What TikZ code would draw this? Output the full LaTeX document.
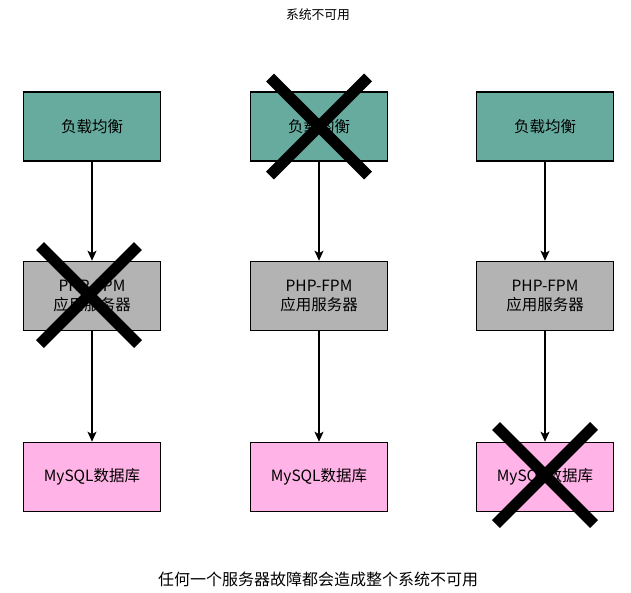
\documentclass[tikz,border=0pt]{standalone}
\usepackage{fontspec}
\setmainfont{Noto Sans CJK SC}
\usetikzlibrary{arrows.meta,calc}
\definecolor{lbteal}{HTML}{67AB9F}
\definecolor{appgray}{HTML}{B3B3B3}
\definecolor{dbpink}{HTML}{FFB3E6}
\tikzset{
  boxbase/.style={draw=black, line width=1.6pt, minimum width=137pt, minimum height=69pt, inner sep=0pt, align=center, font=\fontsize{15.5}{19}\selectfont},
  lbbox/.style={boxbase, fill=lbteal},
  appbox/.style={boxbase, fill=appgray},
  dbbox/.style={boxbase, fill=dbpink},
  flow/.style={draw=black, line width=1.6pt, -{Stealth[length=10pt,width=9pt,inset=2.5pt]}},
  crossline/.style={draw=black, line width=11pt}
}
\begin{document}
\begin{tikzpicture}[x=1pt,y=-1pt]
\useasboundingbox (0,0) rectangle (631,592);
\node[font=\fontsize{12.8}{15}\selectfont] (title) at (318,15) {系统不可用};
\node[font=\fontsize{16}{19}\selectfont] (caption) at (318,579) {任何一个服务器故障都会造成整个系统不可用};

\node[lbbox] (lb1) at (92,126.5) {负载均衡};
\node[lbbox] (lb2) at (319,126.5) {负载均衡};
\node[lbbox] (lb3) at (545,126.5) {负载均衡};

\node[appbox] (app1) at (92,296) {PHP-FPM\\应用服务器};
\node[appbox] (app2) at (319,296) {PHP-FPM\\应用服务器};
\node[appbox] (app3) at (545,296) {PHP-FPM\\应用服务器};

\node[dbbox] (db1) at (92,477) {MySQL数据库};
\node[dbbox] (db2) at (319,477) {MySQL数据库};
\node[dbbox] (db3) at (545,477) {MySQL数据库};

\foreach \i in {1,2,3}{
  \draw[flow] (lb\i) -- (app\i);
  \draw[flow] (app\i) -- (db\i);
}

% crosses
\coordinate (x1) at ($(app1.center)+(-3,-1)$);
\coordinate (x2) at ($(lb2.center)+(0,0)$);
\coordinate (x3) at ($(db3.center)+(0,-2)$);
\foreach \c in {x1,x2,x3}{
  \draw[crossline] ($(\c)+(-49,-49)$) -- ($(\c)+(49,49)$);
  \draw[crossline] ($(\c)+(49,-49)$) -- ($(\c)+(-49,49)$);
}
\end{tikzpicture}
\end{document}
